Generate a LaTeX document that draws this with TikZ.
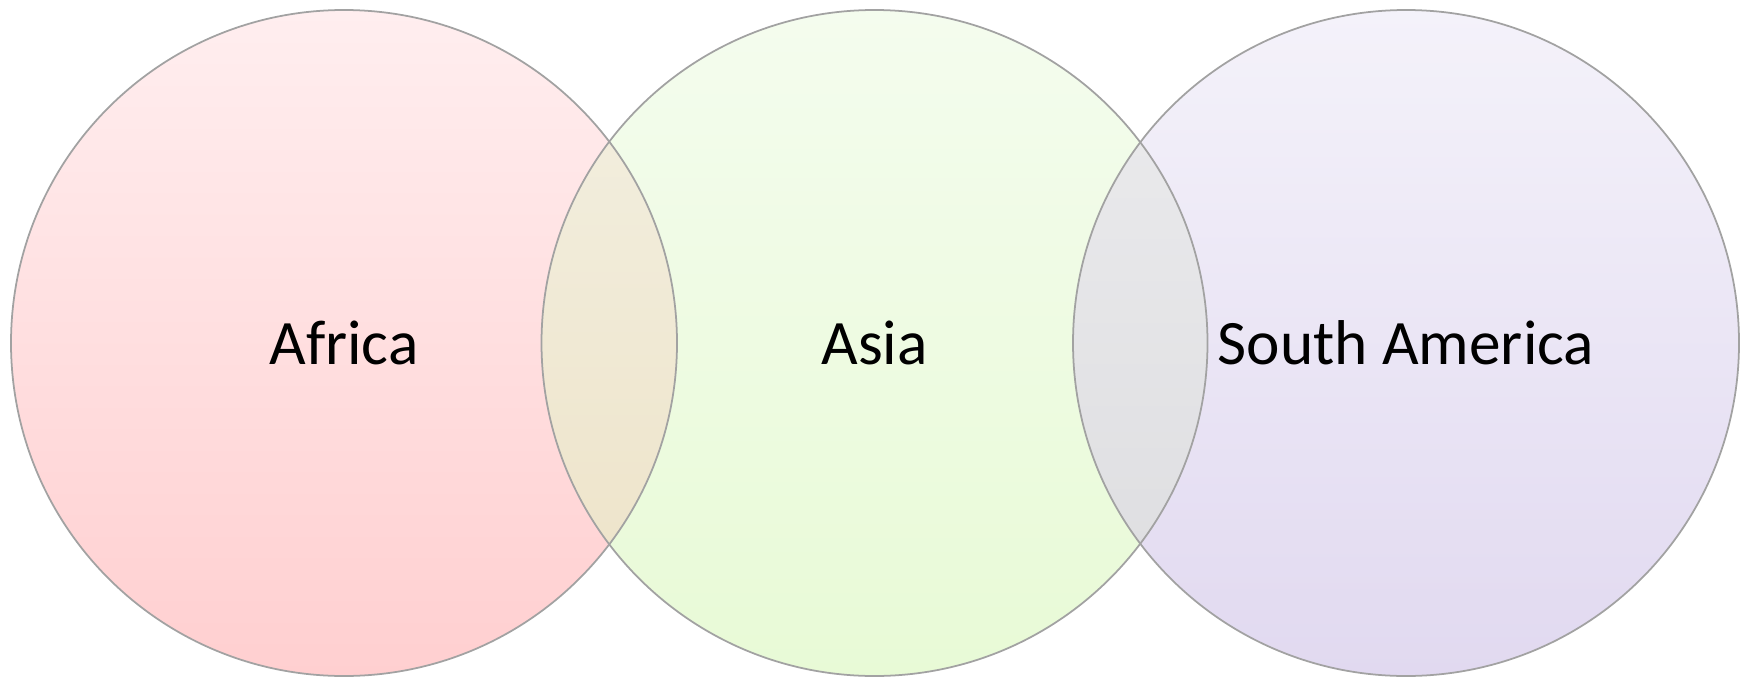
\documentclass[tikz,border=0pt]{standalone}
\usepackage{fontspec}
\setmainfont{Carlito}
\usetikzlibrary{positioning}
\definecolor{afrtop}{HTML}{FFEEEF}
\definecolor{afrbot}{HTML}{FFCFD0}
\definecolor{asitop}{HTML}{F4FCEE}
\definecolor{asibot}{HTML}{E8FAD6}
\definecolor{samtop}{HTML}{F4F2FA}
\definecolor{sambot}{HTML}{E1D9F0}
\definecolor{lenatop}{HTML}{F3F0E2}
\definecolor{lenabot}{HTML}{EDE2C6}
\definecolor{lenbtop}{HTML}{ECECEE}
\definecolor{lenbbot}{HTML}{DCDCDF}
\definecolor{rimgray}{HTML}{A2A2A2}

\begin{document}
\begin{tikzpicture}[x=0.01cm, y=0.01cm,
	cname/.style={font=\fontsize{18}{22}\selectfont, text=black, inner sep=0pt},
	rim/.style={draw=rimgray, line width=0.5pt}]
	\useasboundingbox (0,0) rectangle (1752,678);
	\coordinate (A) at (344,335);
	\coordinate (B) at (874.5,335);
	\coordinate (C) at (1406,335);
	% Kreisflaechen
	\shade[top color=afrtop, bottom color=afrbot] (A) circle (333);
	\shade[top color=asitop, bottom color=asibot] (B) circle (333);
	\shade[top color=samtop, bottom color=sambot] (C) circle (333);
	% Ueberschneidungen
	\begin{scope}
		\clip (A) circle (333);
		\shade[top color=lenatop, bottom color=lenabot] (B) circle (333);
	\end{scope}
	\begin{scope}
		\clip (B) circle (333);
		\shade[top color=lenbtop, bottom color=lenbbot] (C) circle (333);
	\end{scope}
	% Raender
	\draw[rim] (A) circle (333);
	\draw[rim] (B) circle (333);
	\draw[rim] (C) circle (333);
	% Beschriftung
	\node[cname] (africa) at (A) {Africa};
	\node[cname] (asia) at (B) {Asia};
	\node[cname] (samerica) at (C) {South America};
\end{tikzpicture}
\end{document}
